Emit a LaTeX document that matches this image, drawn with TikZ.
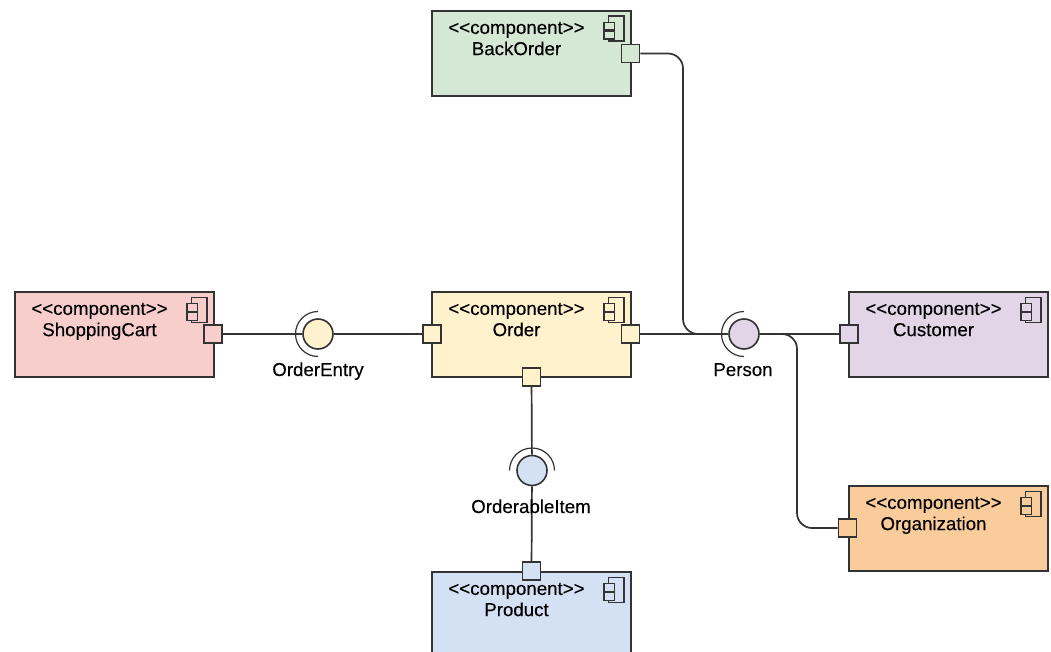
\documentclass[tikz,border=0pt]{standalone}
\usepackage{fontspec}
\setmainfont{Liberation Sans}
\newfontfamily\difont[FakeBold=0.25]{Liberation Sans}
\usetikzlibrary{calc}

\definecolor{cgreen}{HTML}{D5E8D4}
\definecolor{cpink}{HTML}{F8CECC}
\definecolor{cyellow}{HTML}{FFF2CC}
\definecolor{cpurple}{HTML}{E1D5E7}
\definecolor{corange}{HTML}{FACC9C}
\definecolor{cblue}{HTML}{D4E1F5}
\definecolor{cline}{HTML}{333333}

\tikzset{
  compbox/.style={draw=cline, line width=1.8pt, minimum width=199pt, minimum height=85pt, inner sep=0pt},
  comptext/.style={font=\difont\fontsize{18.7pt}{21pt}\selectfont, align=center, inner sep=0pt, text=black},
  port/.style={draw=cline, line width=1.6pt, minimum size=18pt, inner sep=0pt},
  ball/.style={draw=cline, line width=1.6pt, circle, minimum size=30pt, inner sep=0pt},
  wire/.style={draw=cline, line width=1.7pt},
  socket/.style={draw=cline, line width=1.2pt},
  iface/.style={font=\difont\fontsize{18.7pt}{21pt}\selectfont, inner sep=0pt, text=black, anchor=base},
}

\begin{document}
\begin{tikzpicture}[x=1pt, y=1pt]
\path [use as bounding box, clip] (0, 0) rectangle (1051, -652);

\foreach \n/\x/\y/\c/\t in {
  back/531.5/-53.5/cgreen/BackOrder,
  cart/114.5/-334.5/cpink/ShoppingCart,
  order/531.5/-334.5/cyellow/Order,
  cust/948.5/-334.5/cpurple/Customer,
  orgn/948.5/-528.5/corange/Organization,
  prod/531.5/-614.5/cblue/Product} {
  \node (\n) [compbox, fill=\c] at (\x, \y) {};
  \node (\n-t) [comptext] at ($(\n.north)+(-15, -31.5)$) {<{}<component>{}>\\[0.2pt]\t\strut};
  % component icon
  \draw [draw=cline, line width=1.2pt, fill=\c] ($(\n.north east)+(-23.5, -6)$) rectangle ($(\n.north east)+(-8, -31)$);
  \draw [draw=cline, line width=1.2pt, fill=\c] ($(\n.north east)+(-28, -12.5)$) rectangle ($(\n.north east)+(-17.5, -20)$);
  \draw [draw=cline, line width=1.2pt, fill=\c] ($(\n.north east)+(-28, -21.5)$) rectangle ($(\n.north east)+(-17.5, -29)$);
}

\node (pback) [port, fill=cgreen] at (630.5, -53.5) {};
\node (pcart) [port, fill=cpink] at (213, -334) {};
\node (pol) [port, fill=cyellow] at (432, -334) {};
\node (por) [port, fill=cyellow] at (630.5, -334) {};
\node (pob) [port, fill=cyellow] at (531.5, -377) {};
\node (pcust) [port, fill=cpurple] at (849, -334) {};
\node (porgn) [port, fill=corange] at (847.5, -528) {};
\node (pprod) [port, fill=cblue] at (531.5, -571) {};

\node (entry) [ball, fill=cyellow] at (318, -334) {};
\node (person) [ball, fill=cpurple] at (744, -334) {};
\node (item) [ball, fill=cblue] at (532, -470.5) {};

\coordinate (kback) at (683, -334);
\coordinate (jback) at (700, -334);
\coordinate (jorgn) at (782, -334);
\coordinate (korgn) at (797, -334);

\draw [wire] (pcart) -- (entry);
\draw [wire] (entry) -- (pol);
\draw [wire] (por) -- (person);
\draw [wire] (person) -- (pcust);
\draw [wire] (pob) -- (item);
\draw [wire] (item) -- (pprod);
\draw [wire, rounded corners=15pt] (pback.east) -| (kback) -- (jback);
\draw [wire, rounded corners=15pt] (jorgn) -- (korgn) |- (porgn.west);

\draw [socket] ($(entry)+(90:22.5)$) arc [start angle=90, end angle=270, radius=22.5];
\draw [socket] ($(person)+(90:22.5)$) arc [start angle=90, end angle=270, radius=22.5];
\draw [socket] ($(item)+(180:22.5)$) arc [start angle=180, end angle=0, radius=22.5];

\node (entry-l) [iface] at (318, -376) {OrderEntry};
\node (person-l) [iface] at (743, -376) {Person};
\node (item-l) [iface] at (531, -513) {OrderableItem};
\end{tikzpicture}
\end{document}
